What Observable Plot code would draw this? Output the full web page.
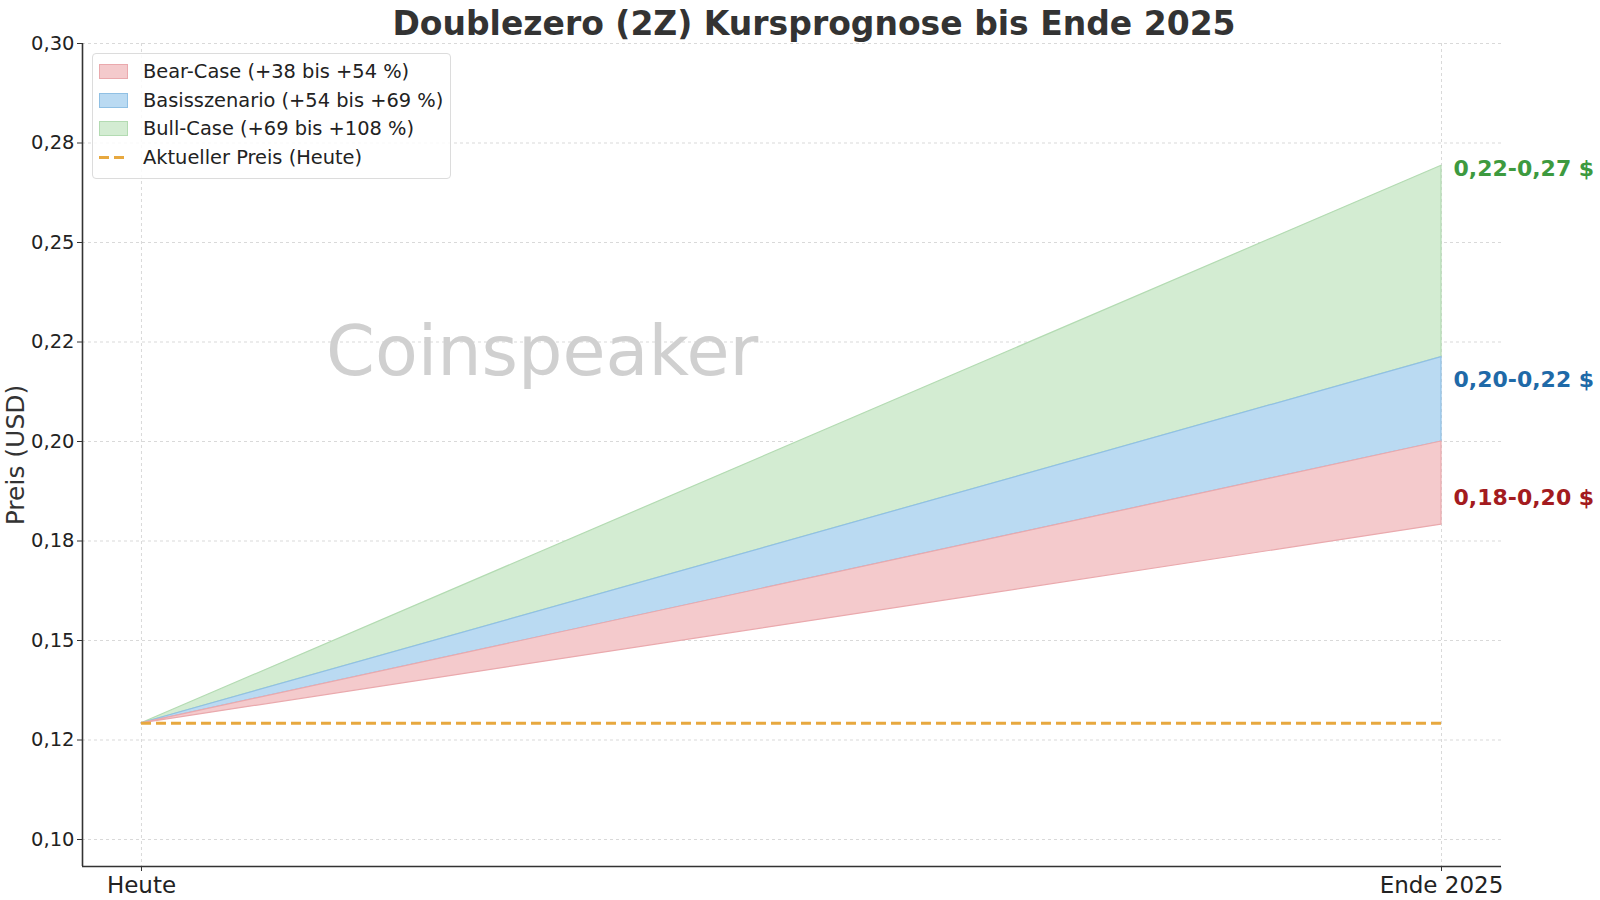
<!DOCTYPE html>
<html>
<head>
<meta charset="utf-8">
<script src="https://cdn.jsdelivr.net/npm/d3@7"></script>
<script src="https://cdn.jsdelivr.net/npm/@observablehq/plot@0.6"></script>
<style>
  html, body { margin: 0; padding: 0; background: #ffffff; }
  body { font-family: "DejaVu Sans", sans-serif; color: #222; }
  #wrap { position: relative; width: 1600px; height: 900px; overflow: hidden; }
  #title { position: absolute; top: 4px; left: 0; width: 1628px; text-align: center;
           font-size: 33px; font-weight: bold; line-height: 40px; color: #333; }
  #watermark { position: absolute; left: 326px; top: 316px; font-size: 70px; line-height: 70px;
               color: #d0d0d0; white-space: nowrap; }
  #ylabel { position: absolute; left: 15px; top: 455px; font-size: 25px; line-height: 25px; color: #333;
            white-space: nowrap; transform: translate(-50%, -50%) rotate(-90deg); }
  #legend { position: absolute; left: 92px; top: 53px; width: 357px; height: 121px;
            border: 1px solid #dcdcdc; border-radius: 4px; background: rgba(255,255,255,0.85);
            padding-top: 3px; box-sizing: content-box; }
  .row { display: flex; align-items: center; height: 28.7px; font-size: 19.4px; color: #222; white-space: nowrap; }
  .sw { width: 29px; height: 15px; margin-left: 6px; margin-right: 15px; box-sizing: border-box; }
  #chart { position: absolute; left: 0; top: 0; }
</style>
</head>
<body>
<div id="wrap">
  <div id="chart"></div>
  <div id="watermark">Coinspeaker</div>
  <div id="title"></div>
  <div id="ylabel"></div>
  <div id="legend"></div>
</div>
<script>
// ---- data ----
const chartTitle = "Doublezero (2Z) Kursprognose bis Ende 2025";
const yAxisLabel = "Preis (USD)";
const xPositions = [0, 1];
const xLabels = ["Heute", "Ende 2025"];
const currentPrice = 0.1292;
const currentPriceLabel = "Aktueller Preis (Heute)";
const scenarioNames = ["Bear-Case (+38 bis +54 %)", "Basisszenario (+54 bis +69 %)", "Bull-Case (+69 bis +108 %)"];
const endLow  = [0.1791, 0.2000, 0.2212];
const endHigh = [0.2000, 0.2212, 0.2693];
const rangeLabels = ["0,18-0,20 $", "0,20-0,22 $", "0,22-0,27 $"];
const rangeLabelValues = [0.1859, 0.2154, 0.2686];
const yTicks = [0.100, 0.125, 0.150, 0.175, 0.200, 0.225, 0.250, 0.275, 0.300];
const yTickLabels = ["0,10", "0,12", "0,15", "0,18", "0,20", "0,22", "0,25", "0,28", "0,30"];

// ---- styles ----
const fills   = ["#f4cacc", "#badaf2", "#d3ecd2"];
const strokes = ["#eaa9ad", "#90c0e4", "#b3dbb2"];
const labelColors = ["#a31b20", "#1f6aa8", "#3d9a3f"];
const priceColor = "#e7a83f";

const xDomain = [-0.04538, 1.04615];
const yDomain = [0.09322, 0.30];

// build band rows from arrays
const bandRows = scenarioNames.map((name, i) => [
  { x: xPositions[0], lo: currentPrice, hi: currentPrice, s: i },
  { x: xPositions[1], lo: endLow[i], hi: endHigh[i], s: i }
]);

const marks = [
  Plot.gridY(yTicks, { stroke: "#cfcfcf", strokeOpacity: 1, strokeWidth: 0.8, strokeDasharray: "3,3" }),
  Plot.gridX(xPositions, { stroke: "#cfcfcf", strokeOpacity: 1, strokeWidth: 0.8, strokeDasharray: "3,3" })
];
[2, 1, 0].forEach(i => {
  marks.push(Plot.areaY(bandRows[i], { x: "x", y1: "lo", y2: "hi", fill: fills[i], fillOpacity: 1,
                                        stroke: strokes[i], strokeWidth: 1.2 }));
});
marks.push(Plot.ruleY([currentPrice], { x1: xPositions[0], x2: xPositions[1], stroke: priceColor,
                                          strokeWidth: 3, strokeDasharray: "10,5" }));
rangeLabels.forEach((t, i) => {
  marks.push(Plot.text([{ x: xPositions[1], y: rangeLabelValues[i], t }], {
    x: "x", y: "y", text: "t", fill: labelColors[i], dx: 12, textAnchor: "start",
    fontWeight: "bold", fontSize: 22
  }));
});
marks.push(
  Plot.ruleX([xDomain[0]], { stroke: "#333", strokeWidth: 1.6 }),
  Plot.ruleY([yDomain[0]], { stroke: "#333", strokeWidth: 1.6 }),
  Plot.axisY({ ticks: yTicks, tickFormat: d => yTickLabels[yTicks.indexOf(d)], tickSize: 5, tickPadding: 3,
               fontSize: 19.5, label: null, stroke: "#333" }),
  Plot.axisX({ ticks: xPositions, tickFormat: d => xLabels[xPositions.indexOf(d)], tickSize: 5, tickPadding: 5,
               fontSize: 23, label: null, stroke: "#333" })
);

const chart = Plot.plot({
  width: 1600, height: 900,
  marginLeft: 82, marginRight: 99, marginTop: 43, marginBottom: 34,
  x: { domain: xDomain, axis: null },
  y: { domain: yDomain, axis: null },
  style: { fontFamily: "DejaVu Sans", background: "transparent", color: "#222" },
  marks
});
document.getElementById("chart").appendChild(chart);

document.getElementById("title").textContent = chartTitle;
document.getElementById("ylabel").textContent = yAxisLabel;

// legend
const legend = document.getElementById("legend");
scenarioNames.forEach((name, i) => {
  const row = document.createElement("div");
  row.className = "row";
  const sw = document.createElement("div");
  sw.className = "sw";
  sw.style.background = fills[i];
  sw.style.border = "1px solid " + strokes[i];
  row.appendChild(sw);
  const t = document.createElement("span");
  t.textContent = name;
  row.appendChild(t);
  legend.appendChild(row);
});
{
  const row = document.createElement("div");
  row.className = "row";
  const svg = d3.create("svg").attr("width", 29).attr("height", 15)
    .style("margin-left", "6px").style("margin-right", "15px");
  svg.append("line").attr("x1", 0).attr("x2", 29).attr("y1", 7.5).attr("y2", 7.5)
    .attr("stroke", priceColor).attr("stroke-width", 3).attr("stroke-dasharray", "10,5");
  row.appendChild(svg.node());
  const t = document.createElement("span");
  t.textContent = currentPriceLabel;
  row.appendChild(t);
  legend.appendChild(row);
}
</script>
</body>
</html>
